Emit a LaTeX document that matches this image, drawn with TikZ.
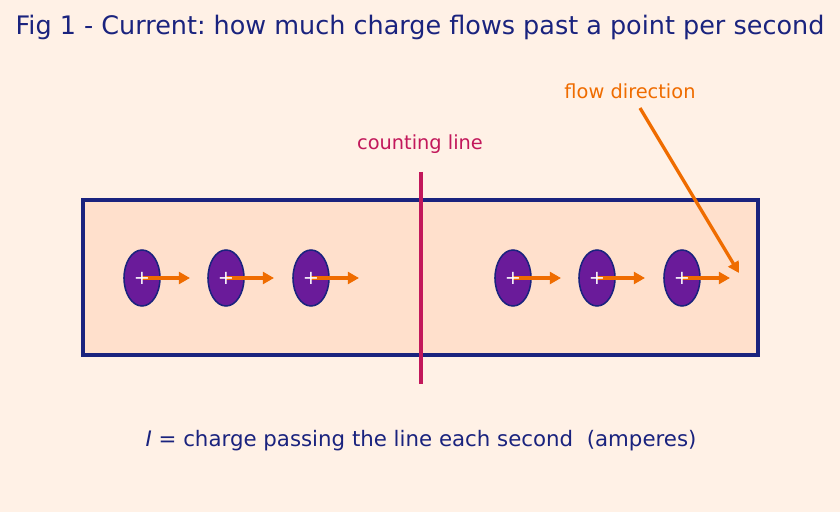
\documentclass[tikz,border=0pt]{standalone}
\usepackage{fontspec}
\setmainfont{DejaVu Sans}
\usetikzlibrary{arrows.meta,positioning,shapes.geometric}
\definecolor{bgpeach}{RGB}{255,241,230}
\definecolor{wirefill}{RGB}{255,224,204}
\definecolor{navy}{RGB}{26,35,126}
\definecolor{crimson}{RGB}{194,24,91}
\definecolor{chargepurple}{RGB}{106,27,154}
\definecolor{floworange}{RGB}{239,108,0}
\frenchspacing

\begin{document}
\begin{tikzpicture}[
  x=0.01in, y=-0.01in,
  wire/.style={draw=navy, line width=2.2pt, fill=wirefill},
  charge/.style={ellipse, draw=navy, line width=1.1pt, fill=chargepurple,
    minimum width=0.36in, minimum height=0.56in, inner sep=0pt},
  plus/.style={text=white, font=\fontsize{14}{14}\selectfont, inner sep=0pt},
  drift/.style={-{Triangle[length=8pt,width=8.5pt]}, floworange, line width=2.4pt},
  cline/.style={crimson, line width=3.6pt},
  ttl/.style={text=navy, font=\fontsize{18.4}{22}\selectfont},
  lbl/.style={font=\fontsize{14}{17}\selectfont}
]
% background
\fill[bgpeach] (0,0) rectangle (840,512);
\useasboundingbox (0,0) rectangle (840,512);

\node[ttl] (title) at (420,27) {Fig 1 - Current: how much charge flows past a point per second};

% wire
\draw[wire] (83,200) rectangle (758,355);

% counting line
\coordinate (ctop) at (421,172);
\coordinate (cbot) at (421,384);
\draw[cline] (ctop) -- (cbot);
\node[lbl, text=crimson] (count) at (420,144) {counting line};

% charges drifting to the right
\foreach \i/\x in {1/142,2/226,3/311,4/513,5/597,6/682} {
  \node[charge] (c\i) at (\x,278) {};
  \coordinate (t\i) at (\x+48,278);
  \draw[drift] (c\i.center) -- (t\i);
  \node[plus] at (c\i) {+};
}

% flow direction
\node[lbl, text=floworange] (flow) at (630,91) {flow direction};
\coordinate (ftail) at (640,108);
\coordinate (fhead) at (739,273);
\draw[drift] (ftail) -- (fhead);

\node[lbl, text=navy, font=\fontsize{15.4}{18}\selectfont] (defn) at (421,441)
  {\textit{I} = charge passing the line each second\ \ (amperes)};
\end{tikzpicture}
\end{document}
